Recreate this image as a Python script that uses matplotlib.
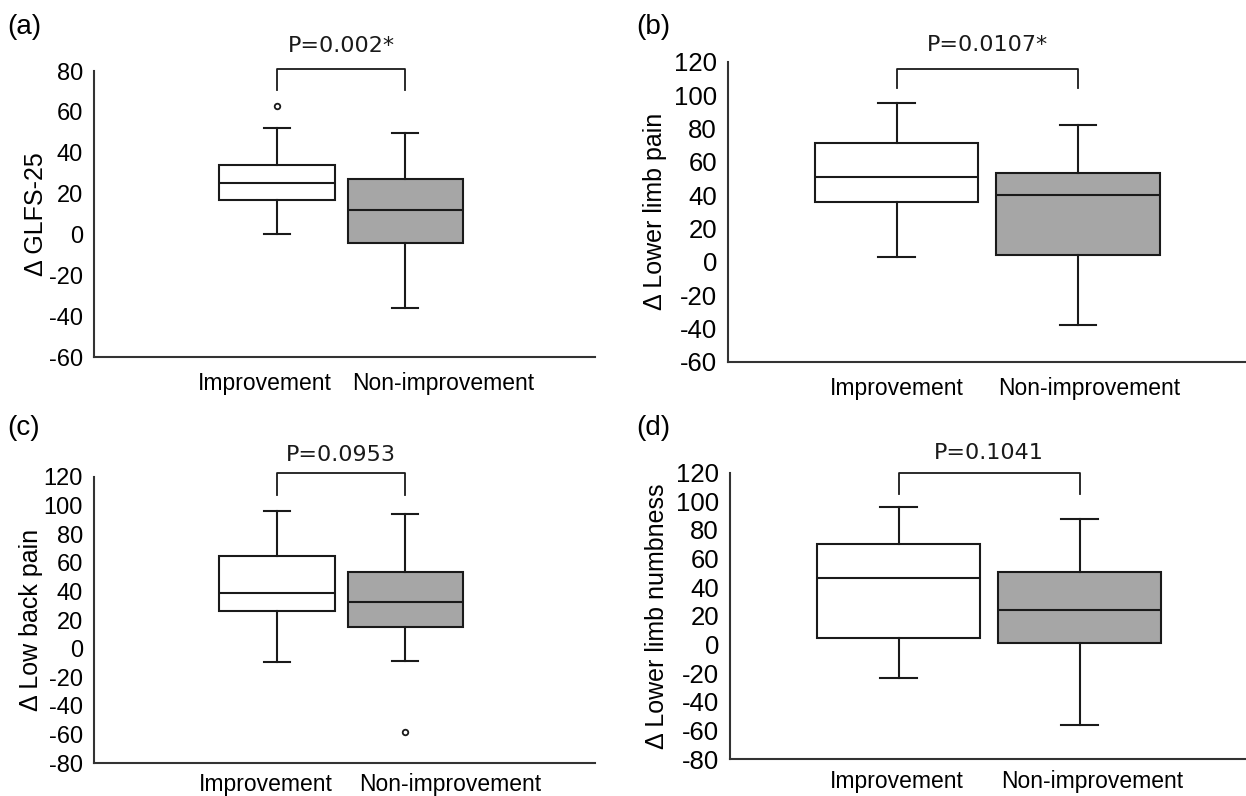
import matplotlib
matplotlib.use("Agg")
import matplotlib.pyplot as plt

groups = ["Improvement", "Non-improvement"]
panel_tags = ["(a)", "(b)", "(c)", "(d)"]
y_labels = ["Δ GLFS-25", "Δ Lower limb pain", "Δ Low back pain", "Δ Lower limb numbness"]
p_texts = ["P=0.002*", "P=0.0107*", "P=0.0953", "P=0.1041"]

# box stats per panel: [whislo, q1, med, q3, whishi] for (improvement, non-improvement)
glfs_stats = [[0, 17, 25, 34, 52], [-36, -4, 12, 27, 49.5]]
glfs_fliers = [[63], []]
leg_pain_stats = [[3, 36, 51, 71, 95], [-38, 4, 40, 53.5, 82]]
leg_pain_fliers = [[], []]
back_pain_stats = [[-9.5, 26, 39, 64.5, 96], [-8.5, 15, 32.5, 53.5, 94]]
back_pain_fliers = [[], [-58.5]]
numb_stats = [[-23, 4.5, 46.5, 70.5, 96], [-56, 1, 24.5, 50.5, 88]]
numb_fliers = [[], []]

y_ranges = [(-60, 80), (-60, 120), (-80, 120), (-80, 120)]
y_steps = [20, 20, 20, 20]

all_stats = [glfs_stats, leg_pain_stats, back_pain_stats, numb_stats]
all_fliers = [glfs_fliers, leg_pain_fliers, back_pain_fliers, numb_fliers]

# layout per panel
positions = [
    [0.0754, 0.5515, 0.402, 0.3593],
    [0.5843, 0.5456, 0.4157, 0.3769],
    [0.0754, 0.0411, 0.402, 0.3600],
    [0.5859, 0.0461, 0.4141, 0.3601],
]
xlims = [(-0.43, 3.48), (0.071, 2.926), (-0.43, 3.48), (0.069, 2.92)]
tick_pos = [[0.90, 2.30], [1.0, 2.06], [0.91, 2.35], [0.99, 2.07]]
brackets = [(81, 70.5, 92), (115.5, 104.5, 130), (122.5, 107, 135), (119.5, 105, 133.5)]
tag_xy = [(0.006, 0.966), (0.511, 0.966), (0.006, 0.462), (0.511, 0.462)]
ytick_size = [17, 18.5, 17, 18.5]
ylabel_pad = [0.5, 5, 0.5, 5]
xtick_pad = [11, 11, 7, 7.5]

line_col = "#1a1a1a"
grey_fill = "#a6a6a6"

fig = plt.figure(figsize=(12.46, 7.96), dpi=100)
plt.rcParams["font.family"] = ["Liberation Sans", "DejaVu Sans"]
plt.rcParams["axes.unicode_minus"] = False

for i in range(4):
    ax = fig.add_axes(positions[i])
    stats = []
    for j in range(2):
        lo, q1, med, q3, hi = all_stats[i][j]
        stats.append({"whislo": lo, "q1": q1, "med": med, "q3": q3, "whishi": hi,
                      "fliers": all_fliers[i][j], "label": groups[j]})
    bp = ax.bxp(stats, positions=[1, 2], widths=0.9, patch_artist=True,
                capwidths=0.2, showfliers=True,
                boxprops=dict(edgecolor=line_col, linewidth=1.5),
                medianprops=dict(color=line_col, linewidth=1.5),
                whiskerprops=dict(color=line_col, linewidth=1.5),
                capprops=dict(color=line_col, linewidth=1.5),
                flierprops=dict(marker="o", markersize=4, markerfacecolor="white",
                                markeredgecolor=line_col, markeredgewidth=1.3))
    bp["boxes"][0].set_facecolor("white")
    bp["boxes"][1].set_facecolor(grey_fill)

    ax.set_xlim(*xlims[i])
    ax.set_ylim(*y_ranges[i])
    ax.set_yticks(range(y_ranges[i][0], y_ranges[i][1] + 1, y_steps[i]))
    ax.set_xticks(tick_pos[i])
    ax.set_xticklabels(groups, fontsize=16.5)
    ax.tick_params(axis="both", length=0)
    ax.tick_params(axis="y", labelsize=ytick_size[i], pad=8)
    ax.tick_params(axis="x", pad=xtick_pad[i])
    ax.set_ylabel(y_labels[i], fontsize=18, labelpad=ylabel_pad[i])
    for s in ["top", "right"]:
        ax.spines[s].set_visible(False)
    for s in ["left", "bottom"]:
        ax.spines[s].set_linewidth(1.5)
        ax.spines[s].set_color("#333333")

    top, end, ty = brackets[i]
    ax.plot([1, 1, 2, 2], [end, top, top, end], color=line_col, linewidth=1.3, clip_on=False)
    ax.text(1.5, ty, p_texts[i], ha="center", va="center", fontsize=16,
            family="DejaVu Sans", color=line_col)

    fig.text(tag_xy[i][0], tag_xy[i][1], panel_tags[i], fontsize=20, ha="left", va="center")

fig.savefig("out.png", dpi=100)
